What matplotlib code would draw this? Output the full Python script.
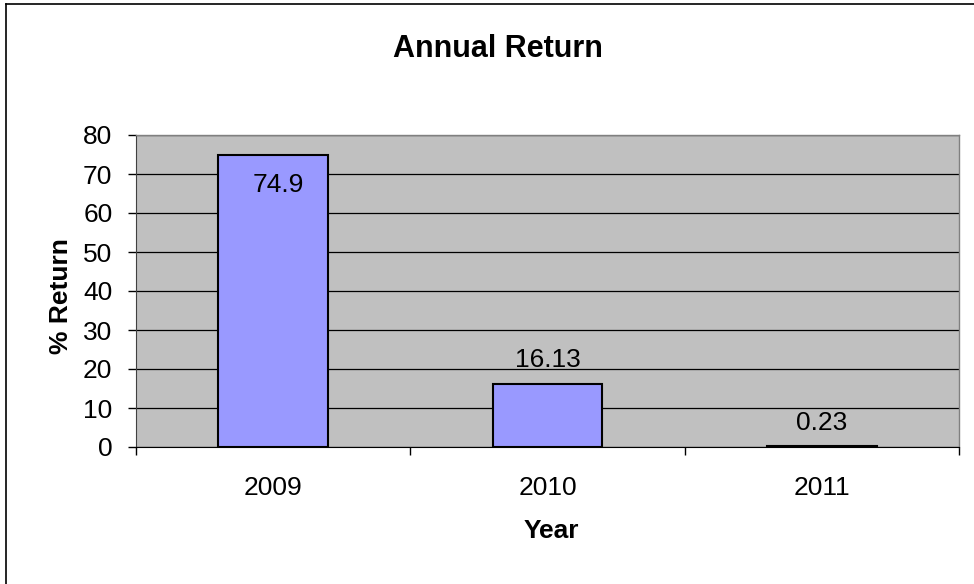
import numpy as np
import matplotlib.pyplot as plt
from matplotlib.lines import Line2D

plt.rcParams['font.family'] = ['Liberation Sans', 'DejaVu Sans']

years = ['2009', '2010', '2011']
returns = [74.9, 16.13, 0.23]
label_text = ['74.9', '16.13', '0.23']
yticks = [0, 10, 20, 30, 40, 50, 60, 70, 80]

W, H = 974, 584
fig = plt.figure(figsize=(W/100, H/100), dpi=100)
ax = fig.add_axes([136/W, 1-447/H, (959-136)/W, (447-135)/H])
ax.set_facecolor('#C0C0C0')

x = np.arange(len(years))
ax.bar(x, returns, width=0.4, color='#9999FF', edgecolor='black', linewidth=1.5, zorder=3)

ax.set_xlim(-0.5, len(years) - 0.5)
ax.set_ylim(0, 80)
ax.set_yticks(yticks)
ax.yaxis.grid(True, color='black', linewidth=0.9, zorder=1)
ax.set_axisbelow(True)

ax.set_xticks(x)
ax.set_xticklabels(years, fontsize=19)
ax.tick_params(axis='x', length=0, pad=21)
ax.set_xticks(np.arange(len(years) + 1) - 0.5, minor=True)
ax.tick_params(axis='x', which='minor', length=6, width=1, color='black', direction='out')
ax.tick_params(axis='y', labelsize=19, length=6, width=1, direction='out', pad=11)

for s in ['top', 'right']:
    ax.spines[s].set_color('#808080')
    ax.spines[s].set_linewidth(1)
ax.spines['left'].set_color('#404040')
ax.spines['bottom'].set_color('black')

# data labels, Excel style (first one sits inside the bar)
offsets = [-30, 24, 23]
for xi, v, t, dy in zip(x, returns, label_text, offsets):
    ax.annotate(t, (xi, v), xytext=(5 if dy < 0 else 0, dy), textcoords='offset pixels',
                ha='center', va='center', fontsize=19, zorder=4)

fig.text(551/W, 1-531/H, 'Year', ha='center', va='center', fontsize=19, fontweight='bold')
fig.text(61/W, 1-296/H, '% Return', ha='center', va='center', rotation=90, fontsize=19, fontweight='bold')
fig.text(498/W, 1-49/H, 'Annual Return', ha='center', va='center', fontsize=22, fontweight='bold')

# chart area border (left and top visible)
fig.add_artist(Line2D([6/W, 6/W], [0, 1-4/H], color='black', linewidth=1.2, transform=fig.transFigure))
fig.add_artist(Line2D([6/W, 1], [1-4/H, 1-4/H], color='black', linewidth=1.2, transform=fig.transFigure))

fig.savefig('out.png', dpi=100, facecolor='white')
